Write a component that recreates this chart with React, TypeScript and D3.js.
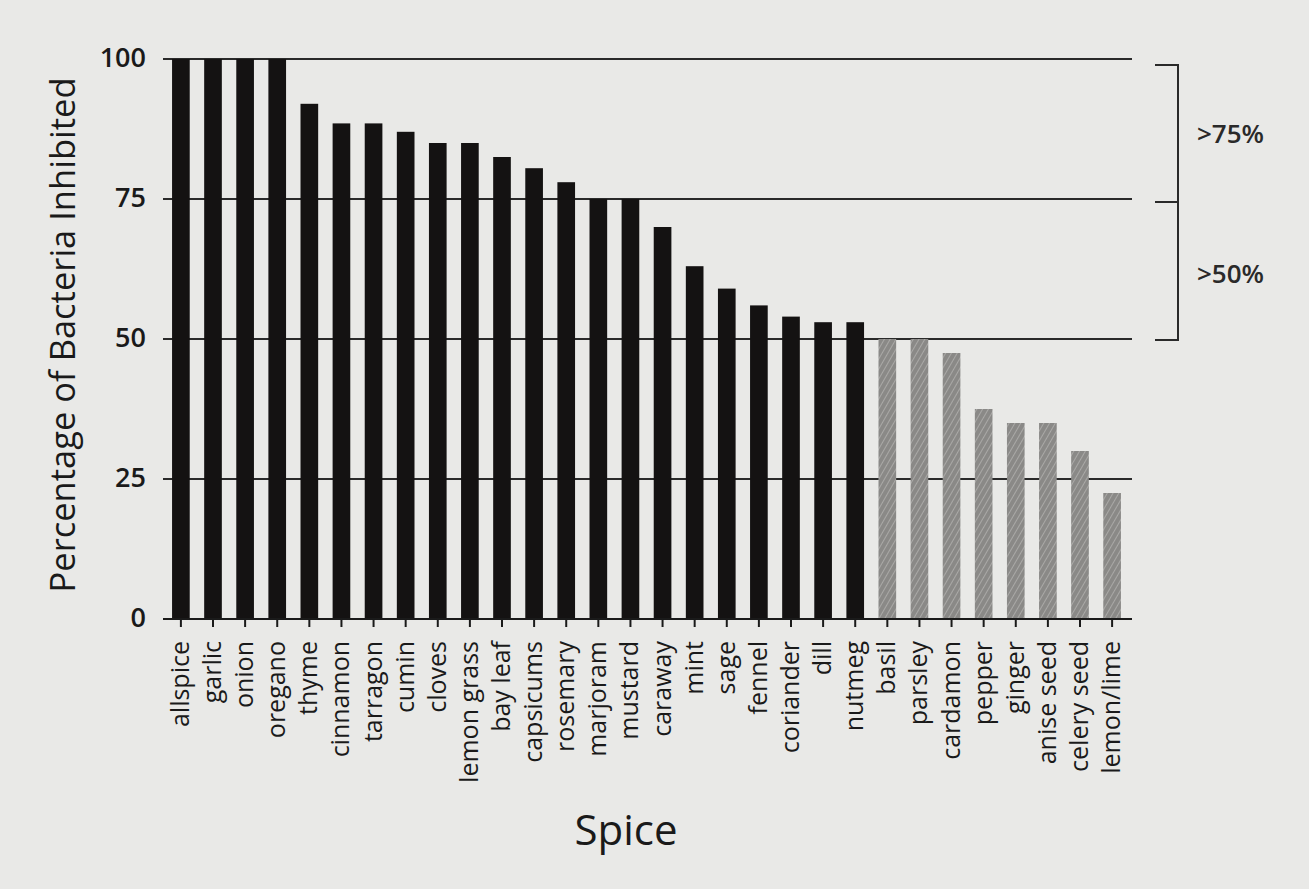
import React from "react";
import * as d3 from "d3";

const spices = ["allspice","garlic","onion","oregano","thyme","cinnamon","tarragon","cumin","cloves","lemon grass","bay leaf","capsicums","rosemary","marjoram","mustard","caraway","mint","sage","fennel","coriander","dill","nutmeg","basil","parsley","cardamon","pepper","ginger","anise seed","celery seed","lemon/lime"];
const inhibited = [100,100,100,100,92,88.5,88.5,87,85,85,82.5,80.5,78,75,75,70,63,59,56,54,53,53,50,50,47.5,37.5,35,35,30,22.5];
const yTicks = [0,25,50,75,100];
const brackets = [{ label: ">75%", from: 100, to: 75 }, { label: ">50%", from: 75, to: 50 }];
const darkCount = 22;

const W = 1309, H = 889;
const left = 165, right = 1128, top = 59, bottom = 619;
const font = "'Open Sans', 'DejaVu Sans', sans-serif";

export default function App() {
  const x = d3.scaleBand<string>().domain(spices).range([left, right]).paddingInner(0.45).paddingOuter(0.22);
  const y = d3.scaleLinear().domain([0, 100]).range([bottom, top]);
  const bx = 1178;
  return (
    <svg width={W} height={H} style={{ position: "absolute", left: 0, top: 0, background: "#e9e9e7" }}>
      <defs>
        <pattern id="hatch" patternUnits="userSpaceOnUse" width="5" height="5" patternTransform="rotate(30)">
          <rect width="5" height="5" fill="#8a8987" />
          <line x1="0" y1="0" x2="0" y2="5" stroke="#b3b2af" strokeWidth="1.6" />
        </pattern>
      </defs>
      <rect x={0} y={0} width={W} height={H} fill="#e9e9e7" />
      {yTicks.filter(t => t > 0).map(t => (
        <line key={t} x1={163} x2={1132} y1={y(t)} y2={y(t)} stroke="#2a2a2a" strokeWidth={2} />
      ))}
      {spices.map((s, i) => (
        <rect key={s} x={x(s)} y={y(inhibited[i])} width={x.bandwidth()} height={bottom - y(inhibited[i])}
          fill={i < darkCount ? "#141212" : "url(#hatch)"} />
      ))}
      <line x1={163} x2={1132} y1={bottom} y2={bottom} stroke="#1a1a1a" strokeWidth={2.2} />
      {spices.map(s => {
        const cx = (x(s) as number) + x.bandwidth() / 2;
        return (
          <g key={s}>
            <line x1={cx} x2={cx} y1={bottom} y2={bottom + 8} stroke="#1a1a1a" strokeWidth={2} />
            <text transform={`translate(${cx + 8},${bottom + 22}) rotate(-90)`} textAnchor="end"
              fontFamily={font} fontSize={25} fontWeight={500} fill="#1a1a1a">{s}</text>
          </g>
        );
      })}
      {yTicks.map(t => (
        <text key={t} x={146} y={y(t) + 8} textAnchor="end" fontFamily={font} fontSize={27} fontWeight={600} fill="#1a1a1a">{t}</text>
      ))}
      <text transform={`translate(75,335) rotate(-90)`} textAnchor="middle"
        fontFamily={font} fontSize={34.5} fontWeight={500} fill="#1a1a1a">Percentage of Bacteria Inhibited</text>
      <text x={626} y={845} textAnchor="middle" fontFamily={font} fontSize={42} fontWeight={500} fill="#1a1a1a">Spice</text>
      <path d={`M1155,${y(100) + 6} H${bx} V${y(50) + 1} H1155`} fill="none" stroke="#2a2a2a" strokeWidth={2} />
      <line x1={1155} x2={bx} y1={y(75) + 3} y2={y(75) + 3} stroke="#2a2a2a" strokeWidth={2} />
      {brackets.map(b => (
        <text key={b.label} x={1197} y={(y(b.from) + y(b.to)) / 2 + 14} fontFamily={font} fontSize={26} fontWeight={600} fill="#2a2a2a">{b.label}</text>
      ))}
    </svg>
  );
}
